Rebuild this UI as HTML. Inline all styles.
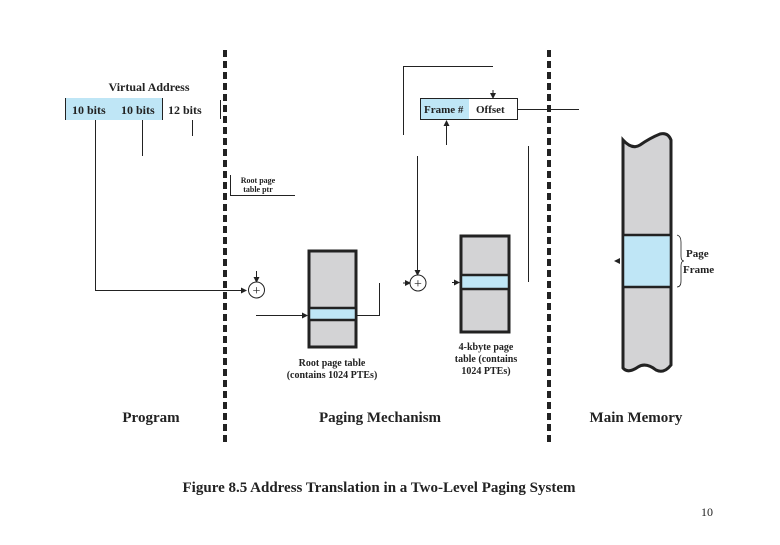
<!DOCTYPE html>
<html><head><meta charset="utf-8"><style>
html,body{margin:0;padding:0;background:#fff;}
svg text{font-family:"Liberation Serif",serif;fill:#222;}
</style></head><body>
<svg width="780" height="540" viewBox="0 0 780 540" xmlns="http://www.w3.org/2000/svg">
<defs>
<marker id="a" markerWidth="6" markerHeight="6" refX="5" refY="3" orient="auto" markerUnits="userSpaceOnUse"><path d="M0,0 L6,3 L0,6 z" fill="#222"/></marker>
</defs>
<!-- dashed dividers -->
<line x1="225" y1="50" x2="225" y2="442" stroke="#222" stroke-width="4" stroke-dasharray="7,4"/>
<line x1="549" y1="50" x2="549" y2="442" stroke="#222" stroke-width="4" stroke-dasharray="7,4"/>

<!-- virtual address -->
<text x="149" y="91" font-size="12" font-weight="bold" text-anchor="middle">Virtual Address</text>
<rect x="65" y="98" width="97" height="22" fill="#bfe6f6"/>
<line x1="65.5" y1="98" x2="65.5" y2="120" stroke="#222"/>
<line x1="162.5" y1="98" x2="162.5" y2="120" stroke="#222"/>
<line x1="220.5" y1="100" x2="220.5" y2="119" stroke="#222"/>
<text x="72" y="114" font-size="12" font-weight="bold">10 bits</text>
<text x="121" y="114" font-size="12" font-weight="bold">10 bits</text>
<text x="168" y="114" font-size="12" font-weight="bold">12 bits</text>
<path d="M95.5 120 V290.5 H246" fill="none" stroke="#222" marker-end="url(#a)"/>
<line x1="142.5" y1="120" x2="142.5" y2="156" stroke="#222"/>
<line x1="192.5" y1="120" x2="192.5" y2="136" stroke="#222"/>

<!-- root ptr -->
<text x="258" y="183" font-size="8" font-weight="bold" text-anchor="middle">Root page</text>
<text x="258" y="192" font-size="8" font-weight="bold" text-anchor="middle">table ptr</text>
<path d="M230.5 175 V195.5 H295" fill="none" stroke="#222"/>
<line x1="256.5" y1="271" x2="256.5" y2="282" stroke="#222" marker-end="url(#a)"/>
<circle cx="256.5" cy="290" r="8" fill="#fff" stroke="#222"/>
<text x="256.5" y="295" font-size="14" text-anchor="middle" font-family="Liberation Sans">+</text>

<!-- root page table -->
<rect x="309" y="251" width="47" height="96" fill="#d3d3d5" stroke="#222" stroke-width="3"/>
<rect x="309" y="308" width="47" height="12" fill="#bfe6f6" stroke="#222" stroke-width="2.5"/>
<line x1="256" y1="315.5" x2="307" y2="315.5" stroke="#222" marker-end="url(#a)"/>
<path d="M357 315.5 H379.5 V283" fill="none" stroke="#222"/>
<text x="332" y="366" font-size="10" font-weight="bold" text-anchor="middle">Root page table</text>
<text x="332" y="378" font-size="10" font-weight="bold" text-anchor="middle">(contains 1024 PTEs)</text>

<!-- second adder -->
<line x1="417.5" y1="156" x2="417.5" y2="275" stroke="#222" marker-end="url(#a)"/>
<line x1="403" y1="283" x2="410" y2="283" stroke="#222" marker-end="url(#a)"/>
<circle cx="418" cy="283" r="8" fill="#fff" stroke="#222"/>
<text x="418" y="288" font-size="14" text-anchor="middle" font-family="Liberation Sans">+</text>

<!-- 4k table -->
<rect x="461" y="236" width="48" height="96" fill="#d3d3d5" stroke="#222" stroke-width="3"/>
<rect x="461" y="275" width="48" height="14" fill="#bfe6f6" stroke="#222" stroke-width="2.5"/>
<line x1="452" y1="282.5" x2="459" y2="282.5" stroke="#222" marker-end="url(#a)"/>
<text x="486" y="350" font-size="10" font-weight="bold" text-anchor="middle">4-kbyte page</text>
<text x="486" y="362" font-size="10" font-weight="bold" text-anchor="middle">table (contains</text>
<text x="486" y="374" font-size="10" font-weight="bold" text-anchor="middle">1024 PTEs)</text>
<line x1="528.5" y1="146" x2="528.5" y2="282" stroke="#222"/>

<!-- physical address -->
<path d="M403.5 135 V66.5 H493" fill="none" stroke="#222"/>
<line x1="493" y1="90" x2="493" y2="98" stroke="#222" marker-end="url(#a)"/>
<rect x="420.5" y="98.5" width="97" height="21" fill="#fff" stroke="#222"/>
<rect x="421" y="99" width="48" height="20" fill="#bfe6f6"/>
<text x="424" y="113" font-size="11" font-weight="bold">Frame #</text>
<text x="476" y="113" font-size="11" font-weight="bold">Offset</text>
<line x1="518" y1="109.5" x2="579" y2="109.5" stroke="#222"/>
<line x1="446.5" y1="145" x2="446.5" y2="121" stroke="#222" marker-end="url(#a)"/>

<!-- main memory -->
<path d="M623 140 Q632 150 640 145 Q650 138 660 134 Q668 132 671 140 V365 Q664 374 656 370 Q646 362 638 367 Q628 374 623 368 Z" fill="#d3d3d5" stroke="#222" stroke-width="3"/>
<rect x="623" y="235" width="48" height="52" fill="#bfe6f6" stroke="#222" stroke-width="2.5"/>
<path d="M614 261 L620 258 L620 264 Z" fill="#222"/>
<path d="M677 235 Q681 236 681 242 V256 Q681 261 684 261 Q681 261 681 266 V281 Q681 287 677 287" fill="none" stroke="#222" stroke-width="0.8"/>
<text x="686" y="257" font-size="11" font-weight="bold">Page</text>
<text x="683" y="273" font-size="11" font-weight="bold">Frame</text>

<!-- section labels -->
<text x="151" y="422" font-size="15" font-weight="bold" text-anchor="middle">Program</text>
<text x="380" y="422" font-size="15" font-weight="bold" text-anchor="middle">Paging Mechanism</text>
<text x="636" y="422" font-size="15" font-weight="bold" text-anchor="middle">Main Memory</text>

<text x="379" y="492" font-size="15" font-weight="bold" text-anchor="middle">Figure 8.5  Address Translation in a Two-Level Paging System</text>
<text x="707" y="516" font-size="12" text-anchor="middle">10</text>
</svg>
</body></html>
